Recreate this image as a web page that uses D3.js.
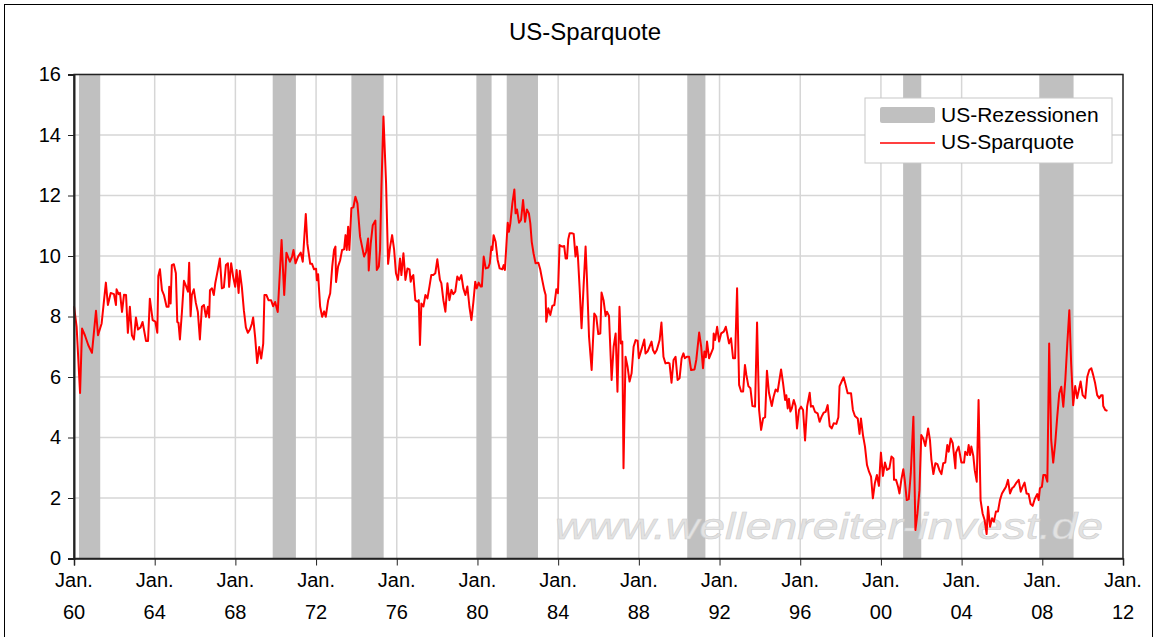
<!DOCTYPE html>
<html>
<head>
<meta charset="utf-8">
<script src="https://cdn.jsdelivr.net/npm/d3@7"></script>
<style>
  body { margin: 0; background: #fff; }
  svg { display: block; font-family: Arial, "Liberation Sans", sans-serif; }
</style>
</head>
<body>
<script>
// US personal saving rate (%), decimal years
const years = [
  1960.00,1960.13,1960.30,1960.40,1960.54,1960.71,1960.89,1961.09,1961.19,1961.37,1961.58,1961.68,1961.82,1961.98,
  1962.08,1962.11,1962.21,1962.28,1962.38,1962.48,1962.58,1962.67,1962.77,1962.87,1962.97,1963.07,1963.17,1963.30,
  1963.40,1963.57,1963.67,1963.76,1963.90,1964.03,1964.13,1964.18,1964.26,1964.36,1964.46,1964.59,1964.69,1964.72,
  1964.79,1964.85,1964.95,1965.05,1965.12,1965.18,1965.25,1965.35,1965.45,1965.55,1965.65,1965.71,1965.78,1965.84,
  1965.94,1966.04,1966.14,1966.24,1966.34,1966.44,1966.54,1966.64,1966.70,1966.74,1966.84,1966.93,1967.00,1967.13,
  1967.23,1967.33,1967.43,1967.53,1967.63,1967.69,1967.79,1967.89,1967.99,1968.06,1968.16,1968.22,1968.32,1968.42,
  1968.52,1968.62,1968.72,1968.82,1968.88,1968.98,1969.08,1969.18,1969.28,1969.38,1969.44,1969.54,1969.64,1969.77,
  1969.87,1969.97,1970.10,
  1970.29,1970.42,1970.53,1970.70,1970.81,1970.88,1970.98,1971.11,1971.24,1971.34,1971.49,1971.57,1971.71,1971.80,
  1971.90,1972.00,1972.04,1972.10,1972.20,1972.30,1972.40,1972.48,1972.60,1972.70,1972.80,1972.89,1972.96,1972.99,
  1973.09,1973.19,1973.29,1973.39,1973.46,1973.52,1973.59,1973.65,1973.75,1973.85,1973.95,1974.05,1974.18,1974.28,
  1974.38,1974.48,1974.58,1974.61,1974.71,1974.81,1974.94,1975.01,1975.11,1975.17,1975.24,1975.34,1975.47,1975.57,
  1975.67,1975.77,1975.87,1975.96,1976.06,1976.16,1976.23,1976.33,1976.43,1976.53,1976.63,1976.69,1976.76,1976.82,
  1976.92,1977.02,1977.09,1977.15,1977.22,1977.32,1977.42,1977.52,1977.62,1977.71,1977.81,1977.91,1978.01,1978.14,
  1978.21,1978.31,1978.41,1978.51,1978.61,1978.71,1978.80,1978.90,1979.00,1979.10,1979.20,1979.30,1979.40,1979.50,
  1979.60,1979.70,1979.80,1979.89,1979.96,1980.06,1980.16,1980.22,
  1980.31,1980.41,1980.54,1980.61,1980.69,1980.74,1980.80,1980.90,1981.00,1981.10,1981.23,1981.30,1981.36,1981.50,
  1981.56,1981.63,1981.73,1981.83,1981.89,1981.96,1982.06,1982.16,1982.26,1982.36,1982.45,1982.55,1982.62,1982.69,
  1982.78,1982.88,1983.02,1983.11,1983.21,1983.31,1983.38,1983.41,1983.51,1983.61,1983.71,1983.81,1983.91,1983.99,
  1984.07,1984.20,1984.30,1984.37,1984.44,1984.50,1984.57,1984.70,1984.77,1984.86,1984.93,1984.98,1985.06,1985.16,
  1985.26,1985.36,1985.43,1985.53,1985.66,1985.79,1985.89,1985.99,1986.09,1986.15,1986.25,1986.35,1986.42,1986.52,
  1986.65,1986.75,1986.85,1986.94,1987.04,1987.11,1987.18,1987.24,1987.34,1987.44,1987.54,1987.64,1987.74,1987.84,
  1987.94,1988.00,1988.10,1988.17,1988.27,1988.33,1988.43,1988.53,1988.63,1988.70,1988.79,1988.89,1989.03,1989.12,
  1989.22,1989.32,1989.45,1989.52,1989.62,1989.72,1989.82,1989.92,1990.02,1990.12,1990.21,1990.28,1990.38,
  1990.49,1990.59,1990.76,1990.85,1990.99,1991.09,1991.18,1991.25,1991.32,1991.38,1991.48,1991.58,1991.68,1991.71,
  1991.78,1991.88,1991.98,1992.08,1992.21,1992.31,1992.37,1992.47,1992.57,1992.67,1992.77,1992.87,1992.97,1993.07,
  1993.17,1993.26,1993.33,1993.43,1993.53,1993.63,1993.76,1993.86,1993.96,1994.06,1994.16,1994.26,1994.35,1994.45,
  1994.59,1994.68,1994.78,1994.88,1995.05,1995.15,1995.25,1995.31,1995.38,1995.44,1995.51,1995.58,1995.68,1995.77,
  1995.84,1995.94,1996.04,1996.14,1996.24,1996.34,1996.47,1996.53,1996.63,1996.73,1996.86,1996.96,1997.06,1997.16,
  1997.26,1997.36,1997.46,1997.56,1997.66,1997.79,1997.89,1997.95,1998.05,1998.15,1998.25,1998.35,1998.52,1998.61,
  1998.71,1998.85,1998.94,1999.01,1999.11,1999.21,1999.31,1999.41,1999.51,1999.60,1999.70,1999.80,1999.90,2000.00,
  2000.10,2000.20,2000.30,
  2000.42,2000.52,2000.62,2000.65,2000.75,2000.85,2000.92,2001.01,2001.11,2001.18,2001.28,2001.38,2001.48,2001.61,
  2001.71,2001.81,2001.91,2002.00,2002.10,2002.20,2002.34,2002.43,2002.50,2002.60,2002.70,2002.80,2002.90,2003.00,
  2003.09,2003.19,2003.29,2003.36,2003.46,2003.56,2003.69,2003.72,2003.85,2003.99,2004.12,2004.18,2004.28,2004.35,
  2004.42,2004.48,2004.58,2004.65,2004.75,2004.84,2004.94,2005.04,2005.14,2005.24,2005.31,2005.41,2005.51,2005.60,
  2005.70,2005.80,2005.90,2006.00,2006.10,2006.20,2006.30,2006.40,2006.50,2006.59,2006.69,2006.83,2006.93,2007.02,
  2007.12,2007.22,2007.32,2007.42,2007.52,2007.62,2007.75,2007.82,2007.88,2007.98,2008.05,2008.15,2008.25,2008.34,
  2008.44,2008.54,2008.64,2008.74,2008.84,2008.94,2009.04,2009.14,2009.24,2009.34,2009.43,2009.53,2009.63,2009.73,
  2009.83,2009.90,2010.00,2010.13,2010.23,2010.33,2010.43,2010.52,2010.62,2010.72,2010.82,2010.92,2010.99,2011.02,
  2011.12,2011.23
];
const rates = [
  8.34,7.66,5.47,7.60,7.38,7.05,6.80,8.19,7.38,7.77,9.12,8.38,8.78,8.74,
  8.38,8.90,8.74,8.78,8.15,8.72,8.71,7.46,8.32,7.38,7.24,7.97,7.57,7.64,
  7.82,7.19,7.19,8.59,7.88,7.83,7.46,9.34,9.56,8.87,8.71,8.32,8.32,8.98,
  8.43,9.70,9.73,9.43,7.82,7.79,7.24,8.15,9.18,9.01,8.82,9.78,8.01,8.71,
  8.90,8.45,8.15,7.24,8.32,8.38,7.99,8.32,7.97,8.87,8.93,8.71,9.09,9.54,
  9.92,8.93,8.96,9.70,9.76,8.98,9.76,9.31,8.98,9.54,8.78,9.51,8.98,8.21,
  7.64,7.46,7.57,7.77,7.97,7.31,6.46,6.99,6.61,7.10,8.71,8.71,8.54,8.54,
  8.34,8.48,8.15,
  10.53,8.71,10.11,9.81,9.98,10.20,9.76,9.98,10.11,9.81,11.39,10.40,9.74,9.74,
  9.56,9.58,9.20,9.40,8.33,7.99,8.17,7.99,8.54,8.77,9.65,10.20,10.31,9.14,
  9.65,9.85,10.20,10.22,10.69,10.20,10.97,10.20,11.58,11.61,11.96,11.74,10.64,10.31,
  9.98,10.14,10.58,9.52,10.42,11.02,11.17,9.54,9.65,10.20,12.29,14.61,12.40,9.74,
  10.31,10.69,10.20,9.43,9.21,9.92,9.37,10.09,9.21,9.59,9.56,9.15,9.32,9.37,
  8.54,8.49,8.54,7.06,8.43,8.33,8.71,8.60,8.99,9.37,9.37,9.43,9.89,9.21,
  9.10,8.54,8.16,9.10,8.54,8.88,8.74,8.82,9.32,9.21,9.37,8.93,8.71,8.99,
  8.33,7.88,8.49,9.15,8.93,9.12,8.99,8.99,
  9.98,9.59,9.62,9.76,10.31,10.20,10.69,10.47,9.87,9.59,9.56,9.70,9.54,11.10,
  10.80,11.08,11.74,12.20,11.41,11.54,11.10,11.19,11.85,11.13,11.54,11.41,11.08,10.47,
  10.09,9.76,9.78,9.56,9.21,8.88,8.71,7.83,8.27,8.05,8.35,8.38,8.90,8.77,
  10.36,10.31,10.33,9.92,9.92,10.55,10.75,10.75,10.73,9.98,10.31,9.98,8.99,7.61,
  8.99,10.31,9.21,7.33,6.23,8.10,7.99,7.42,7.44,8.79,8.54,8.02,8.16,8.02,
  5.90,7.00,7.44,5.51,8.32,7.11,7.17,2.98,6.67,6.34,5.85,6.12,7.00,7.22,
  7.20,6.62,6.84,7.00,7.24,6.78,6.84,7.00,7.17,6.89,6.78,6.89,7.22,7.80,
  6.67,6.45,6.47,6.45,5.81,6.56,6.67,5.90,5.96,6.62,6.78,6.62,6.67,
  6.67,6.23,6.25,6.58,7.47,7.00,6.29,6.84,6.65,7.17,6.62,6.78,6.95,7.44,
  7.22,7.66,7.17,7.44,7.50,7.66,7.47,7.11,7.28,6.62,6.62,8.93,5.74,5.52,
  5.52,6.40,6.07,5.70,5.63,5.04,5.02,7.80,4.91,4.25,4.63,4.67,6.21,5.48,
  5.04,5.35,5.59,5.52,6.25,5.79,5.24,5.40,4.96,5.28,4.86,4.96,5.24,5.04,
  4.30,4.91,5.02,4.91,3.90,5.02,5.48,5.02,5.04,4.85,4.80,4.52,4.69,4.82,
  4.85,5.07,4.38,4.30,4.47,4.45,4.67,5.70,5.85,5.99,5.74,5.46,5.46,4.91,
  4.71,4.63,4.12,4.63,4.08,3.70,3.09,2.87,2.71,1.99,2.49,2.76,2.40,3.50,
  2.73,3.17,2.93,
  2.98,3.37,3.31,2.60,2.60,2.37,2.15,2.60,2.95,2.60,1.93,1.96,2.82,4.69,
  0.94,1.49,2.26,4.08,3.97,3.72,4.30,3.92,3.28,2.79,3.15,3.12,2.92,2.79,
  3.15,3.17,3.75,3.53,3.97,3.81,2.98,3.50,3.70,3.17,3.17,3.53,3.42,3.75,
  3.42,3.70,3.39,2.92,2.54,5.24,1.93,1.49,1.27,0.81,1.71,1.05,1.33,1.22,
  1.55,1.55,1.93,2.15,2.26,2.37,2.60,2.15,2.32,2.37,2.48,2.60,2.21,2.37,
  2.51,2.15,2.13,1.80,1.74,1.96,2.13,1.93,2.32,2.37,2.76,2.76,2.54,7.11,
  3.92,3.17,3.81,4.69,5.46,5.68,5.02,5.90,7.11,8.21,6.45,5.07,5.70,5.30,
  5.63,5.85,5.40,5.30,6.01,6.23,6.29,6.07,5.79,5.40,5.30,5.40,5.40,5.04,
  4.91,4.88
];

// recession periods (start / end, decimal years)
const recStart = [1960.25, 1969.85, 1973.75, 1979.95, 1981.45, 1990.40, 2001.10, 2007.85];
const recEnd   = [1961.30, 1971.00, 1975.35, 1980.70, 1983.00, 1991.30, 2002.00, 2009.55];

const tickYears = d3.range(1960, 2013, 4);
const yTicks = d3.range(0, 17, 2);

(function() {
    const width = 1157, height = 637;
    const svg = d3.select("body").append("svg")
        .attr("width", width)
        .attr("height", height);

    // outer chart frame
    svg.append("rect")
        .attr("x", 4.5).attr("y", 4.5)
        .attr("width", 1148).attr("height", 640)
        .attr("fill", "#fff")
        .attr("stroke", "#000")
        .attr("stroke-width", 1);

    const x = d3.scaleLinear().domain([1960, 2012]).range([74, 1123]);
    const y = d3.scaleLinear().domain([0, 16]).range([558.5, 74.5]);

    // grid
    svg.append("g")
        .selectAll("line")
        .data(yTicks.slice(1))
        .join("line")
            .attr("x1", x(1960)).attr("x2", x(2012))
            .attr("y1", d => y(d)).attr("y2", d => y(d))
            .attr("stroke", "#d6d6d6")
            .attr("stroke-width", 1.5);

    svg.append("g")
        .selectAll("line")
        .data(tickYears.slice(1, -1))
        .join("line")
            .attr("x1", d => x(d)).attr("x2", d => x(d))
            .attr("y1", y(0)).attr("y2", y(16))
            .attr("stroke", "#d6d6d6")
            .attr("stroke-width", 1.5);

    // recession bars
    svg.append("g")
        .attr("fill", "#c0c0c0")
        .selectAll("rect")
        .data(d3.zip(recStart, recEnd))
        .join("rect")
            .attr("x", d => x(d[0]))
            .attr("width", d => x(d[1]) - x(d[0]))
            .attr("y", y(16))
            .attr("height", y(0) - y(16));

    // watermark
    svg.append("text")
        .attr("x", 555)
        .attr("y", 539)
        .attr("textLength", 548)
        .attr("lengthAdjust", "spacingAndGlyphs")
        .attr("font-size", 37)
        .attr("font-style", "italic")
        .attr("fill", "#e2e2e2")
        .attr("stroke", "#cdcdcd")
        .attr("stroke-width", 0.5)
        .text("www.wellenreiter-invest.de");

    // saving rate line
    const line = d3.line()
        .x((d, i) => x(years[i]))
        .y(d => y(d));

    svg.append("path")
        .datum(rates)
        .attr("fill", "none")
        .attr("stroke", "#ff0000")
        .attr("stroke-width", 2)
        .attr("stroke-linejoin", "round")
        .attr("d", line);

    // plot frame
    svg.append("rect")
        .attr("x", x(1960)).attr("y", y(16))
        .attr("width", x(2012) - x(1960))
        .attr("height", y(0) - y(16))
        .attr("fill", "none")
        .attr("stroke", "#222")
        .attr("stroke-width", 1.5);

    // y axis
    const yAxis = svg.append("g")
        .attr("transform", `translate(${x(1960)},0)`)
        .call(d3.axisLeft(y).tickValues(yTicks).tickSize(6).tickPadding(7));
    yAxis.select(".domain").attr("stroke", "#222").attr("stroke-width", 2);
    yAxis.selectAll("line").attr("stroke", "#222");
    yAxis.selectAll("text")
        .attr("font-size", 20)
        .attr("font-family", "Arial, 'Liberation Sans', sans-serif")
        .attr("fill", "#000");

    // x axis
    const xAxis = svg.append("g")
        .attr("transform", `translate(0,${y(0)})`)
        .call(d3.axisBottom(x).tickValues(tickYears).tickSize(7).tickFormat(""));
    xAxis.select(".domain").attr("stroke", "#222").attr("stroke-width", 1.5);
    xAxis.selectAll("line").attr("stroke", "#222");

    const xl = svg.append("g")
        .attr("font-size", 20)
        .attr("text-anchor", "middle")
        .attr("fill", "#000");
    xl.selectAll("text.m")
        .data(tickYears)
        .join("text")
            .attr("class", "m")
            .attr("x", d => x(d))
            .attr("y", 587)
            .text("Jan.");
    xl.selectAll("text.yr")
        .data(tickYears)
        .join("text")
            .attr("class", "yr")
            .attr("x", d => x(d))
            .attr("y", 619)
            .text(d => String(d % 100).padStart(2, "0"));

    // title
    svg.append("text")
        .attr("x", 585)
        .attr("y", 40)
        .attr("text-anchor", "middle")
        .attr("font-size", 24)
        .text("US-Sparquote");

    // legend
    const lg = svg.append("g").attr("transform", "translate(865,98)");
    lg.append("rect")
        .attr("width", 247).attr("height", 65)
        .attr("fill", "#fff")
        .attr("stroke", "#c8c8c8");
    lg.append("rect")
        .attr("x", 15).attr("y", 9)
        .attr("width", 55).attr("height", 16)
        .attr("rx", 2)
        .attr("fill", "#c0c0c0");
    lg.append("line")
        .attr("x1", 15).attr("x2", 70)
        .attr("y1", 45).attr("y2", 45)
        .attr("stroke", "#ff0000")
        .attr("stroke-width", 1.5);
    lg.selectAll("text")
        .data(["US-Rezessionen", "US-Sparquote"])
        .join("text")
            .attr("x", 76)
            .attr("y", (d, i) => 24 + i * 27)
            .attr("font-size", 21)
            .text(d => d);
})();
</script>
</body>
</html>
